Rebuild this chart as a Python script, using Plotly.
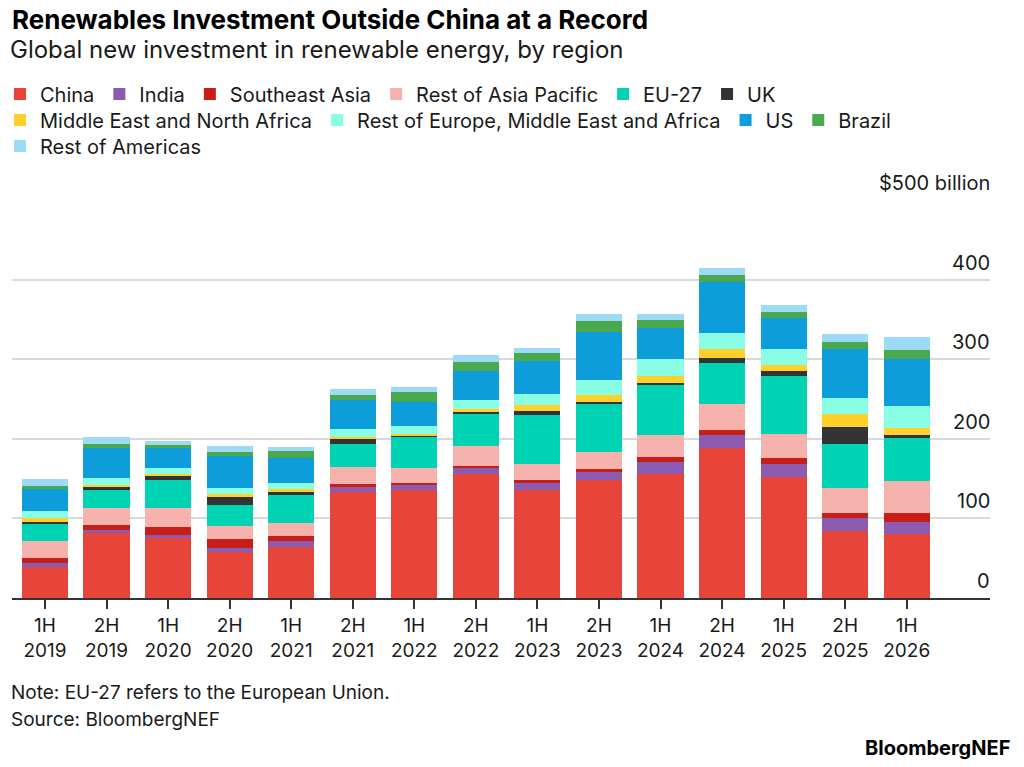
import plotly.graph_objects as go

# Periods (x categories)
periods = ["1H<br>2019", "2H<br>2019", "1H<br>2020", "2H<br>2020", "1H<br>2021",
           "2H<br>2021", "1H<br>2022", "2H<br>2022", "1H<br>2023", "2H<br>2023",
           "1H<br>2024", "2H<br>2024", "1H<br>2025", "2H<br>2025", "1H<br>2026"]

# $ billion (bottom to top of each stack)
china = [39, 82, 75, 58, 64, 133, 136, 156, 136, 148, 156, 189, 152, 84, 80]
india = [5, 3, 4.5, 4.6, 7, 6.7, 6.7, 8, 8.4, 11.3, 14.7, 16, 16, 16, 15.5]
se_asia = [6, 7, 9.7, 12, 6.8, 3.4, 2, 2, 3.4, 2.5, 5.9, 5.9, 8, 6.7, 11.8]
rest_apac = [22, 21.5, 24, 15.5, 17, 21, 19, 24.4, 20.6, 21, 28, 32.4, 30.2, 32, 40]
eu27 = [21, 22, 34.5, 26.5, 34, 30, 38.6, 42, 61, 62, 64, 52.5, 72.3, 54.6, 53.8]
uk = [2, 4, 6, 10, 5, 6, 1.3, 1.7, 5.9, 2, 1.7, 5.9, 6.7, 21.8, 4.2]
mena = [6, 2.5, 1.7, 4.6, 3, 1.7, 3, 3.4, 7.1, 8, 8.4, 10.5, 8, 16.4, 8.8]
rest_emea = [8.5, 9, 8.4, 7.6, 8, 10.5, 10, 11, 14, 18.5, 21, 20.2, 19.3, 20.2, 26.5]
us = [28, 38, 25, 39, 31.5, 37, 29.4, 36.6, 41, 61.3, 39, 64.7, 39.5, 61.3, 60]
brazil = [3.5, 4, 3.4, 6, 8.4, 6.3, 12.6, 11.3, 10, 13.4, 10, 8.8, 6.7, 8.8, 11.3]
rest_americas = [8, 9, 5.5, 7, 5.4, 6.7, 7, 9.2, 6.3, 8.4, 8.4, 8.4, 9.7, 10.1, 15.5]

# name, values, colour, legend row
series = [
    ("China", china, "#e8453a", "legend"),
    ("India", india, "#8a5bb0", "legend"),
    ("Southeast Asia", se_asia, "#c71f18", "legend"),
    ("Rest of Asia Pacific", rest_apac, "#f6b3ae", "legend"),
    ("EU-27", eu27, "#00d3b3", "legend"),
    ("UK", uk, "#333333", "legend"),
    ("Middle East and North Africa", mena, "#fdd02a", "legend2"),
    ("Rest of Europe, Middle East and Africa", rest_emea, "#8afde5", "legend2"),
    ("US", us, "#0e9ddb", "legend2"),
    ("Brazil", brazil, "#4aa84f", "legend2"),
    ("Rest of Americas", rest_americas, "#9ddaf6", "legend3"),
]

tick_vals = [0, 100, 200, 300, 400, 500]
tick_text = ["0", "100", "200", "300", "400", "$500 billion"]

FONT = "Inter"
INK = "#1a1a1a"
GRID = "#d9d9d9"

# page margin is removed below, so figure pixels == screenshot pixels
W, H = 1024, 767
ML, MR, MT, MB = 12, 34, 200, 169
PW = W - ML - MR
PH = H - MT - MB


def px(p):
    return (p - ML) / PW


def py(p):
    return ((H - MB) - p) / PH


fig = go.Figure()
for name, vals, col, leg in series:
    fig.add_trace(go.Bar(x=periods, y=vals, name=name, legend=leg,
                         marker=dict(color=col, line=dict(width=0))))

legend_common = dict(orientation="h", xref="paper", yref="paper",
                     x=px(0), xanchor="left", yanchor="middle",
                     traceorder="normal", font=dict(size=20, color=INK),
                     bgcolor="rgba(0,0,0,0)")

fig.update_layout(
    barmode="stack",
    bargap=0.25,
    width=W,
    height=H,
    paper_bgcolor="white",
    plot_bgcolor="white",
    font=dict(family=FONT, color=INK, size=18),
    margin=dict(l=ML, r=MR, t=MT, b=MB, autoexpand=False),
    title=dict(text="<b>Renewables Investment Outside China at a Record</b>",
               x=12 / W, xanchor="left", xref="container",
               y=1 - 19.5 / H, yanchor="middle", yref="container",
               font=dict(size=26, family=FONT, color="black")),
    legend=dict(legend_common, y=py(94)),
    legend2=dict(legend_common, y=py(120)),
    legend3=dict(legend_common, y=py(146)),
)

fig.update_xaxes(
    type="category",
    range=[-0.536, 15.353],
    showgrid=False,
    showline=True, linecolor="#333333", linewidth=2,
    ticks="outside", ticklen=9, tickcolor="#333333", tickwidth=1.5,
    tickfont=dict(size=19, color=INK),
)

fig.update_yaxes(
    range=[0, tick_vals[-1]],
    side="right",
    tickvals=tick_vals,
    showticklabels=False,
    showgrid=True, gridcolor=GRID, gridwidth=1.5,
    zeroline=False, showline=False,
)

# value labels sit just above their gridlines, right-aligned
for v, t in zip(tick_vals, tick_text):
    fig.add_annotation(text=t, xref="paper", yref="y", x=1, y=v,
                       xshift=2, yshift=17, xanchor="right", yanchor="middle",
                       showarrow=False, font=dict(size=20, color=INK))

fig.add_annotation(text="Global new investment in renewable energy, by region",
                   xref="paper", yref="paper", x=px(8), y=py(49),
                   xanchor="left", yanchor="middle", showarrow=False,
                   font=dict(size=24, color=INK))
fig.add_annotation(text="Note: EU-27 refers to the European Union.",
                   xref="paper", yref="paper", x=px(9), y=py(692),
                   xanchor="left", yanchor="middle", showarrow=False,
                   font=dict(size=19, color=INK))
fig.add_annotation(text="Source: BloombergNEF",
                   xref="paper", yref="paper", x=px(9), y=py(719),
                   xanchor="left", yanchor="middle", showarrow=False,
                   font=dict(size=19, color=INK))
fig.add_annotation(text="<b>BloombergNEF</b>",
                   xref="paper", yref="paper", x=px(1012), y=py(748),
                   xanchor="right", yanchor="middle", showarrow=False,
                   font=dict(size=20, color="black"))

fig.write_html("out.html",
               config={"displayModeBar": False},
               post_script="document.body.style.margin='0';")
